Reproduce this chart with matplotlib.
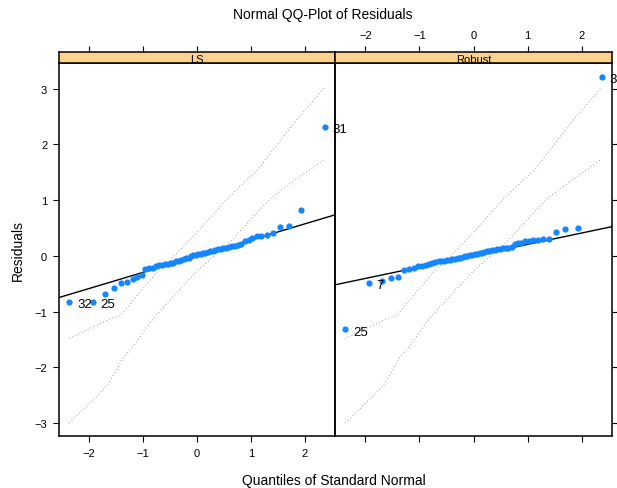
import matplotlib
matplotlib.use('Agg')
import matplotlib.pyplot as plt
from statistics import NormalDist

plt.rcParams['font.family'] = ['Liberation Sans', 'DejaVu Sans']

# sorted residuals (56 obs per fit)
ls_resid = [-0.83, -0.83, -0.69, -0.57, -0.49, -0.46, -0.41, -0.38, -0.35, -0.23,
            -0.22, -0.21, -0.19, -0.17, -0.16, -0.15, -0.14, -0.13, -0.12, -0.10,
            -0.09, -0.07, -0.06, -0.04, -0.03, -0.01, 0.01, 0.02, 0.03, 0.04,
            0.05, 0.06, 0.07, 0.08, 0.09, 0.11, 0.12, 0.13, 0.14, 0.15,
            0.16, 0.17, 0.18, 0.19, 0.21, 0.26, 0.29, 0.33, 0.35, 0.36,
            0.375, 0.41, 0.51, 0.53, 0.82, 2.31]
rob_resid = [-1.32, -0.49, -0.445, -0.40, -0.37, -0.25, -0.23, -0.21, -0.19, -0.18,
             -0.16, -0.15, -0.13, -0.11, -0.10, -0.09, -0.085, -0.08, -0.07, -0.06,
             -0.05, -0.04, -0.035, -0.02, -0.01, 0.0, 0.01, 0.02, 0.03, 0.04,
             0.05, 0.06, 0.07, 0.08, 0.09, 0.10, 0.11, 0.12, 0.13, 0.14,
             0.145, 0.15, 0.16, 0.21, 0.23, 0.24, 0.26, 0.27, 0.29, 0.29,
             0.30, 0.30, 0.43, 0.48, 0.50, 3.21]

# labelled extreme points: position in sorted order -> observation id
ls_labels = {0: '32', 1: '25', 55: '31'}
rob_labels = {0: '25', 1: '7', 55: '3'}

# reference lines (intercept, slope)
ls_line = (-0.005, 0.29)
rob_line = (0.003, 0.204)

# simulation envelope (same in both panels)
env_up_x = [-2.37, -1.61, -1.42, -1.11, -0.74, -0.37, 0.0, 0.55, 1.14, 1.76, 2.37]
env_up_y = [-1.48, -1.13, -1.07, -0.71, -0.29, 0.05, 0.42, 1.02, 1.56, 2.34, 3.03]
env_lo_x = [-2.37, -2.04, -1.67, -1.48, -1.39, -1.17, -0.87, -0.37, 0.0, 0.61, 1.35, 1.76, 2.37]
env_lo_y = [-3.0, -2.69, -2.33, -2.03, -1.85, -1.61, -1.19, -0.65, -0.27, 0.25, 1.02, 1.32, 1.74]

panels = ['LS', 'Robust']
x_ticks = [-2, -1, 0, 1, 2]
y_ticks = [-3, -2, -1, 0, 1, 2, 3]
xlim = (-2.56, 2.56)
ylim = (-3.233, 3.463)

W, H = 617, 489
fig = plt.figure(figsize=(W / 100, H / 100), dpi=100)

strip_col = '#FFD18F'
pt_col = '#1486FF'


def quantiles(n):
    nd = NormalDist()
    return [nd.inv_cdf((i + 0.5) / n) for i in range(n)]


data = [(ls_resid, ls_labels, ls_line), (rob_resid, rob_labels, rob_line)]
lefts = [59, 335]
rights = [335, 612]
top, bottom, strip_top = 64, 437, 53

for k, name in enumerate(panels):
    resid, labels, line = data[k]
    x0, x1 = lefts[k] / W, rights[k] / W
    ax = fig.add_axes([x0, 1 - bottom / H, x1 - x0, (bottom - top) / H])
    ax.set_facecolor('none')
    sx = fig.add_axes([x0, 1 - top / H, x1 - x0, (top - strip_top) / H])

    q = quantiles(len(resid))
    ax.plot(env_up_x, env_up_y, color='#999999', lw=0.7, ls=(0, (1, 2.5)))
    ax.plot(env_lo_x, env_lo_y, color='#999999', lw=0.7, ls=(0, (1, 2.5)))
    ax.axline((0, line[0]), slope=line[1], color='black', lw=1.0)
    ax.plot(q, resid, 'o', color=pt_col, ms=4.5, mec='none', zorder=3)
    for i, lab in labels.items():
        ax.annotate(lab, (q[i], resid[i]), xytext=(5.5, -1.5), textcoords='offset points',
                    fontsize=9.5, va='center', ha='left', annotation_clip=False)

    ax.set_xlim(xlim)
    ax.set_ylim(ylim)
    ax.set_xticks(x_ticks)
    ax.set_yticks(y_ticks)
    ax.tick_params(direction='out', length=4, width=0.8, labelsize=8, pad=4.5)
    if k == 0:
        ax.tick_params(axis='y', left=True, right=False, labelleft=True)
        ax.tick_params(axis='x', bottom=True, labelbottom=True)
    else:
        ax.tick_params(axis='y', left=False, right=True, labelleft=False)
        ax.tick_params(axis='x', bottom=True, labelbottom=False)
    for sp in ax.spines.values():
        sp.set_linewidth(1.1)

    sx.set_facecolor(strip_col)
    sx.set_xlim(xlim)
    sx.set_xticks(x_ticks)
    sx.set_yticks([])
    sx.tick_params(axis='x', bottom=False, labelbottom=False, top=True,
                   labeltop=(k == 1), direction='out', length=4, width=0.8,
                   labelsize=8, pad=4.5)
    for sp in sx.spines.values():
        sp.set_linewidth(1.1)
    sx.text(0.5, 0.4, name, transform=sx.transAxes, ha='center', va='center',
            fontsize=8)

fig.text(323 / W, 1 - 15 / H, 'Normal QQ-Plot of Residuals', ha='center',
         va='center', fontsize=10)
fig.text(334 / W, 1 - 481 / H, 'Quantiles of Standard Normal', ha='center',
         va='center', fontsize=10)
fig.text(18 / W, 1 - 251 / H, 'Residuals', ha='center', va='center',
         rotation=90, fontsize=10)

fig.savefig('out.png', dpi=100)
